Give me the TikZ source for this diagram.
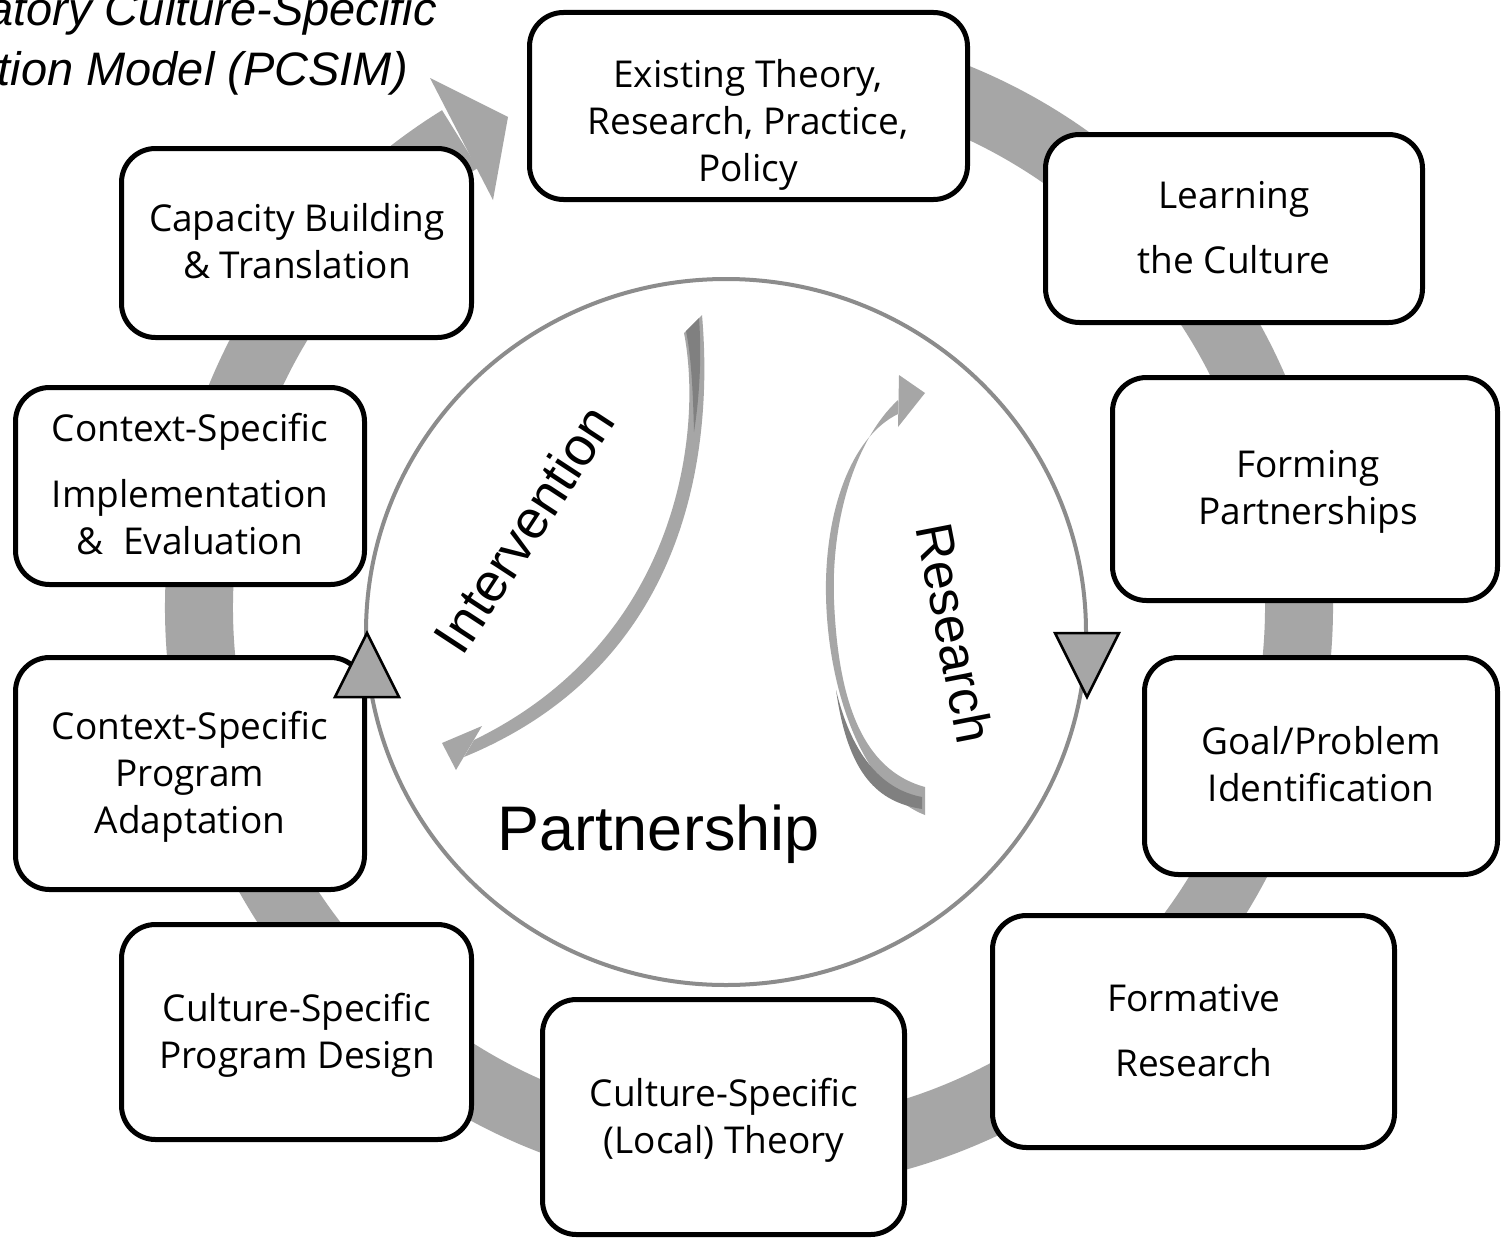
\documentclass[tikz,border=0pt]{standalone}
\usepackage{fontspec}
\usetikzlibrary{shapes.geometric}
\setmainfont{Open Sans}
\newfontfamily\arialfont{Liberation Sans}
\definecolor{ringgray}{HTML}{A6A6A6}
\definecolor{darkgray2}{HTML}{808080}
\definecolor{circgray}{HTML}{8C8C8C}
\begin{document}
\begin{tikzpicture}[x=1pt,y=-1pt,
  box/.style={draw=black, line width=5pt, rounded corners=34pt, fill=white, inner sep=0pt},
  lbl/.style={align=center, inner sep=0pt, font=\fontsize{37}{47}\selectfont},
  tri/.style={draw=black, line width=2.5pt, fill=ringgray, line join=miter},
  ttl/.style={inner sep=0pt, anchor=base east, font=\arialfont\itshape\fontsize{47}{47}\selectfont},
  bigtxt/.style={inner sep=0pt, font=\arialfont\fontsize{#1}{#1}\selectfont}]
\useasboundingbox (0,0) rectangle (1501,1239);
\fill[white] (0,0) rectangle (1501,1239);
% title (cut at left edge)
\node[ttl] (title1) at (437,26) {Participatory Culture-Specific};
\node[ttl] (title2) at (408,85) {Intervention Model (PCSIM)};
% big ring arrow
\draw[ringgray, line width=68pt] (749,607) ++(275:550) arc[start angle=275, end angle=598.3, radius=550];
\fill[ringgray] (430,78) -- (508,117) -- (493,200) -- cycle;
% central circle
\node[ellipse, draw=circgray, line width=4pt, fill=white, minimum width=720pt, minimum height=706pt, inner sep=0pt] (core) at (726,632) {};
% boxes
\node[box, minimum width=438pt, minimum height=187pt] (b1) at (748.5,106) {};
\node[box, minimum width=377pt, minimum height=188pt] (b2) at (1234,228.5) {};
\node[box, minimum width=385pt, minimum height=223pt] (b3) at (1305,489) {};
\node[box, minimum width=353pt, minimum height=217pt] (b4) at (1321,766) {};
\node[box, minimum width=402pt, minimum height=232pt] (b5) at (1193.5,1031.5) {};
\node[box, minimum width=362pt, minimum height=235pt] (b6) at (723.5,1117) {};
\node[box, minimum width=350pt, minimum height=215pt] (b7) at (296.5,1032) {};
\node[box, minimum width=349pt, minimum height=232pt] (b8) at (190,773.5) {};
\node[box, minimum width=349pt, minimum height=197pt] (b9) at (190,486) {};
\node[box, minimum width=350pt, minimum height=189pt] (b10) at (296.5,243) {};
% labels
\node[lbl] (t1) at (748,125) {Existing Theory,\\Research, Practice,\\Policy};
\node[lbl] (t2) at (1234,227.5) {Learning\\[18pt]the Culture};
\node[lbl] (t3) at (1308,492) {Forming\\Partnerships};
\node[lbl] (t4) at (1321,764.5) {Goal/Problem\\Identification};
\node[lbl] (t5) at (1194,1030.5) {Formative\\[18pt]Research};
\node[lbl] (t6) at (724,1120) {Culture-Specific\\(Local) Theory};
\node[lbl] (t7) at (297,1035) {Culture-Specific\\Program Design};
\node[lbl] (t8) at (190,776.5) {Context-Specific\\Program\\Adaptation};
\node[lbl] (t9) at (190,484) {Context-Specific\\[19pt]Implementation\\\&\ \ Evaluation};
\node[lbl] (t10) at (297,241.5) {Capacity Building\\\& Translation};
% triangles on the circle
\coordinate (lt) at (367,633);
\coordinate (rt) at (1087,697);
\draw[tri] (lt) -- (399,697) -- (335,697) -- cycle;
\draw[tri] (rt) -- (1055,633) -- (1119,633) -- cycle;
% intervention arrow
\fill[ringgray] (684,333) -- (702,315)
  .. controls (712,430) and (700,660) .. (464,757)
  -- (474,740) .. controls (680,640) and (703,430) .. (684,333) -- cycle;
\fill[ringgray] (482,726) -- (442,743) -- (456,770) -- cycle;
\fill[darkgray2] (686,331) -- (699,318) .. controls (702,360) and (699,400) .. (694,432)
  .. controls (693,390) and (691,355) .. (686,331) -- cycle;
% research arrow
\fill[ringgray] (925,787) .. controls (862,770) and (838,700) .. (834,600)
  .. controls (831,520) and (855,440) .. (898,400)
  -- (898,414) .. controls (855,435) and (828,500) .. (826,580)
  .. controls (824,680) and (860,790) .. (925,815) -- cycle;
\fill[ringgray] (899,375) -- (925,393) -- (898,427) -- cycle;
\fill[darkgray2] (836,690) .. controls (853,760) and (885,790) .. (922,797)
  -- (922,809) .. controls (878,802) and (848,775) .. (836,690) -- cycle;
% centre texts
\node[bigtxt=54, rotate=56.8] (interv) at (524,529) {Intervention};
\node[bigtxt=52, rotate=-79] (resrch) at (955,633) {Research};
\node[bigtxt=63, anchor=base] (partner) at (658.5,850) {Partnership};
\end{tikzpicture}
\end{document}
